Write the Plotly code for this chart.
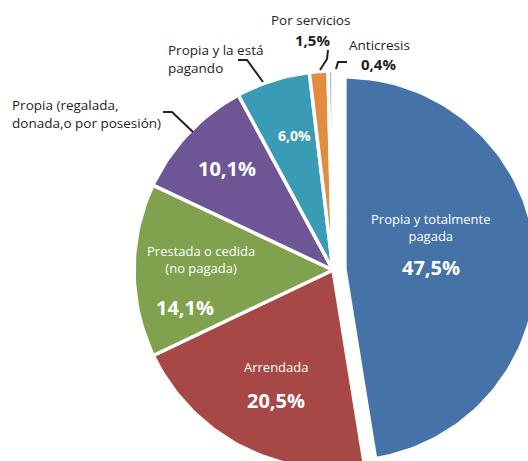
import math

import plotly.graph_objects as pgo

# --- data -------------------------------------------------------------------
categories = [
    'Propia y totalmente pagada',
    'Arrendada',
    'Prestada o cedida (no pagada)',
    'Propia (regalada, donada,o por posesión)',
    'Propia y la está pagando',
    'Por servicios',
    'Anticresis',
]
shares = [47.5, 20.5, 14.1, 10.1, 6.0, 1.5, 0.4]
share_text = ['47,5%', '20,5%', '14,1%', '10,1%', '6,0%', '1,5%', '0,4%']
label_text = [
    'Propia y totalmente<br>pagada',
    'Arrendada',
    'Prestada o cedida<br>(no pagada)',
    'Propia (regalada,<br>donada,o por posesión)',
    'Propia y la está<br>pagando',
    'Por servicios',
    'Anticresis',
]

# --- styling / layout -------------------------------------------------------
W, H = 528, 461
CX, CY, R = 333, 270, 199          # pie centre and radius in px
colors = ['#4573A8', '#A74846', '#80A24F', '#6E5696', '#3A9BB6', '#E38C3F', '#A2B8D8']
pulls = [0.06, 0, 0, 0, 0, 0, 0]
radius_scale = [0.965, 1, 1, 1, 1, 1, 1]
WHITE = '#FFFFFF'
DARK = '#231F20'
FONT = 'Open Sans'

# (x, y, anchor, size, colour) for the category label and for the share
label_pos = [
    (431, 227, 'center', 13, WHITE),
    (276, 367, 'center', 13, WHITE),
    (201, 259, 'center', 13, WHITE),
    (10, 114, 'left', 13.5, DARK),
    (166, 59, 'left', 13.5, DARK),
    (310, 20, 'center', 13.5, DARK),
    (347, 45, 'left', 13.5, DARK),
]
share_pos = [
    (431, 267, 20, WHITE),
    (276, 400, 20, WHITE),
    (185, 307, 20, WHITE),
    (227, 168, 20, WHITE),
    (294, 135, 14, WHITE),
    (312, 40, 15, DARK),
    (378, 64, 15, DARK),
]
leaders = {
    3: [(163, 112), (172, 112), (193, 132)],
    4: [(238, 60), (247, 60), (263, 82)],
    5: [(328, 50), (327, 59), (320, 70)],
    6: [(336, 69), (338, 62), (347, 62)],
}


def slice_path(start, end, pull, scale):
    mid = (start + end) / 2
    ox = CX + pull * R * math.sin(mid)
    oy = CY - pull * R * math.cos(mid)
    r = R * scale
    n = max(3, int((end - start) / (2 * math.pi) * 240))
    xs, ys = [ox], [oy]
    for i in range(n + 1):
        t = start + (end - start) * i / n
        xs.append(ox + r * math.sin(t))
        ys.append(oy - r * math.cos(t))
    xs.append(ox)
    ys.append(oy)
    return xs, ys


fig = pgo.Figure()

total = sum(shares)
angle = 0.0
for i, value in enumerate(shares):
    span = value / total * 2 * math.pi
    xs, ys = slice_path(angle, angle + span, pulls[i], radius_scale[i])
    angle += span
    fig.add_trace(pgo.Scatter(
        x=xs, y=ys,
        name=categories[i],
        mode='lines',
        fill='toself',
        fillcolor=colors[i],
        line={'color': WHITE, 'width': 3.5},
        hoveron='fills',
        hoverinfo='name',
    ))

for i, pts in leaders.items():
    fig.add_trace(pgo.Scatter(
        x=[p[0] for p in pts], y=[p[1] for p in pts],
        mode='lines',
        line={'color': DARK, 'width': 2},
        hoverinfo='skip',
    ))

annotations = []
for i in range(len(shares)):
    x, y, anchor, size, col = label_pos[i]
    annotations.append({
        'x': x, 'y': y, 'xref': 'x', 'yref': 'y',
        'text': label_text[i], 'showarrow': False,
        'xanchor': anchor, 'yanchor': 'middle', 'align': anchor,
        'font': {'family': FONT, 'size': size, 'color': col},
    })
    x, y, size, col = share_pos[i]
    annotations.append({
        'x': x, 'y': y, 'xref': 'x', 'yref': 'y',
        'text': '<b>' + share_text[i] + '</b>', 'showarrow': False,
        'xanchor': 'center', 'yanchor': 'middle',
        'font': {'family': FONT, 'size': size, 'color': col},
    })

fig.update_layout(
    width=W, height=H,
    margin={'l': 0, 'r': 0, 't': 0, 'b': 0},
    paper_bgcolor=WHITE,
    plot_bgcolor=WHITE,
    showlegend=False,
    annotations=annotations,
    xaxis={'range': [0, W], 'visible': False, 'fixedrange': True},
    yaxis={'range': [H, 0], 'visible': False, 'fixedrange': True},
)

# drop the page's default body margin so the figure fills the window
fig.write_html(
    'out.html',
    config={'displayModeBar': False},
    post_script="document.body.style.margin = '0'; document.body.style.overflow = 'hidden';",
)
